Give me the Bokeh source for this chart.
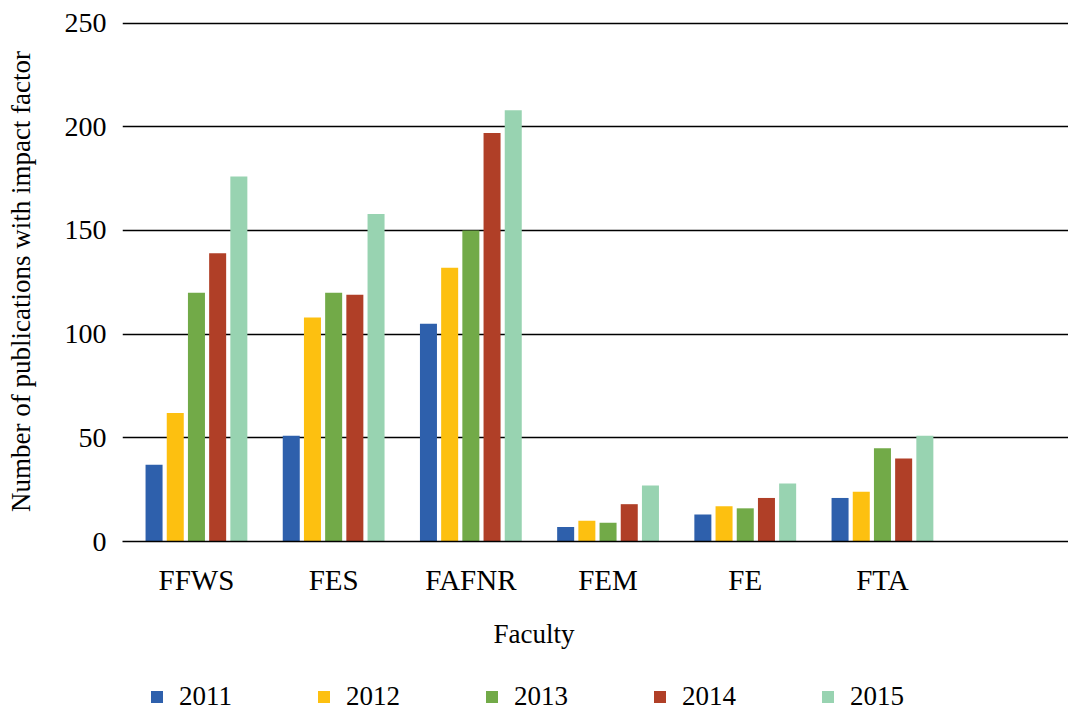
from bokeh.plotting import figure
from bokeh.layouts import column
from bokeh.models import ColumnDataSource, Range1d, FixedTicker, Legend, LegendItem, Title
from bokeh.transform import dodge
from bokeh.embed import file_html
from bokeh.resources import INLINE

faculties = ["FFWS", "FES", "FAFNR", "FEM", "FE", "FTA"]
years = ["2011", "2012", "2013", "2014", "2015"]
v2011 = [37, 51, 105, 7, 13, 21]
v2012 = [62, 108, 132, 10, 17, 24]
v2013 = [120, 120, 150, 9, 16, 45]
v2014 = [139, 119, 197, 18, 21, 40]
v2015 = [176, 158, 208, 27, 28, 51]
colors = ["#2E60AC", "#FDC010", "#72AA48", "#B03F27", "#98D3B1"]

FONT = "Liberation Serif"

src = ColumnDataSource(dict(
    x=list(range(len(faculties))),
    y2011=v2011, y2012=v2012, y2013=v2013, y2014=v2014, y2015=v2015,
))

offsets = [-0.309, -0.1545, 0.0, 0.1545, 0.309]

# ---------------- main chart ----------------
p = figure(frame_width=946, frame_height=520, output_backend="svg", toolbar_location=None,
           x_range=Range1d(-0.539, 6.356), y_range=Range1d(0, 250.8),
           min_border_left=122, min_border_right=0, min_border_top=21,
           min_border_bottom=130)
p.outline_line_color = None
p.background_fill_color = "white"
p.border_fill_color = "white"

for yr, off, col in zip(years, offsets, colors):
    p.vbar(x=dodge("x", off), top="y" + yr, width=0.124, source=src,
           fill_color=col, line_color=None)

p.xaxis.ticker = FixedTicker(ticks=list(range(len(faculties))))
p.xaxis.major_label_overrides = {i: f for i, f in enumerate(faculties)}
p.xaxis.major_tick_in = 0
p.xaxis.major_tick_out = 0
p.xaxis.minor_tick_line_color = None
p.xaxis.axis_line_color = "black"
p.xaxis.axis_line_width = 1.5
p.xaxis.major_label_text_font = FONT
p.xaxis.major_label_text_font_size = "29px"
p.xaxis.major_label_text_color = "black"
p.xaxis.major_label_standoff = 22

p.yaxis.ticker = FixedTicker(ticks=[0, 50, 100, 150, 200, 250])
p.yaxis.axis_line_color = None
p.yaxis.major_tick_in = 0
p.yaxis.major_tick_out = 0
p.yaxis.minor_tick_line_color = None
p.yaxis.major_label_text_font = FONT
p.yaxis.major_label_text_font_size = "28px"
p.yaxis.major_label_text_color = "black"
p.yaxis.major_label_standoff = 16
p.yaxis.axis_label = "Number of publications with impact factor"
p.yaxis.axis_label_text_font = FONT
p.yaxis.axis_label_text_font_size = "27px"
p.yaxis.axis_label_text_font_style = "normal"
p.yaxis.axis_label_text_color = "black"
p.yaxis.axis_label_standoff = 26

p.xgrid.grid_line_color = None
p.ygrid.ticker = FixedTicker(ticks=[50, 100, 150, 200, 250])
p.ygrid.grid_line_color = "black"
p.ygrid.grid_line_width = 1.3

p.add_layout(Title(text="Faculty", align="left", offset=371, text_font=FONT,
                   text_font_size="27px", text_font_style="normal",
                   text_color="black", standoff=36), "below")

# ---------------- legend strip ----------------
# the same series are drawn here outside the visible ranges; only their legend keys show
leg = figure(width=1068, height=41, output_backend="svg", toolbar_location=None,
             x_range=Range1d(10, 11), y_range=Range1d(500, 501),
             x_axis_location=None, y_axis_location=None,
             min_border_left=0, min_border_right=0, min_border_top=0, min_border_bottom=0)
leg.outline_line_color = None
leg.xgrid.grid_line_color = None
leg.ygrid.grid_line_color = None
leg_renderers = []
for yr, off, col in zip(years, offsets, colors):
    r = leg.vbar(x=dodge("x", off), top="y" + yr, width=0.124, source=src,
                 fill_color=col, line_color=None)
    leg_renderers.append(r)

legend = Legend(items=[LegendItem(label=y, renderers=[r]) for y, r in zip(years, leg_renderers)],
                orientation="horizontal", location=(27, 0),
                label_text_font=FONT, label_text_font_size="27px", label_text_color="black",
                glyph_width=15, glyph_height=15, label_standoff=15, spacing=84,
                padding=0, margin=0, border_line_color=None, background_fill_alpha=0)
leg.add_layout(legend)

layout = column(p, leg, spacing=0)
open("out.html", "w").write(file_html(layout, INLINE))
